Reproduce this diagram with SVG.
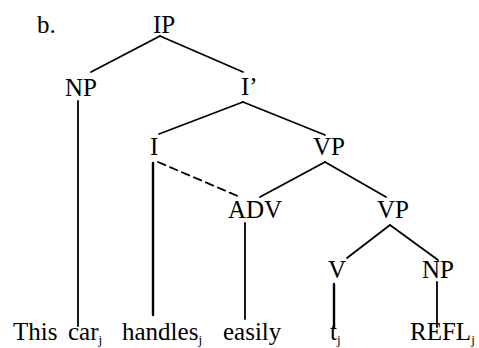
<svg xmlns="http://www.w3.org/2000/svg" width="479" height="348" viewBox="0 0 479 348">
<style>
.e{stroke:#000;stroke-width:1.8;fill:none;stroke-linecap:round}
.d{stroke-dasharray:8,5}
</style>
<rect width="479" height="348" fill="#fff"/>
<g id="connectors">
<line class="e" x1="160" y1="36" x2="91" y2="72"/>
<line class="e" x1="160" y1="36" x2="243" y2="72"/>
<line class="e" x1="78" y1="101" x2="78" y2="326"/>
<line class="e" x1="243" y1="102" x2="159" y2="134"/>
<line class="e" x1="243" y1="102" x2="325" y2="135"/>
<line class="e" x1="153" y1="163" x2="153" y2="315" style="stroke-width:2.4"/>
<line class="e d" x1="158" y1="162" x2="240" y2="197"/>
<line class="e" x1="325" y1="162" x2="260" y2="197"/>
<line class="e" x1="325" y1="162" x2="386" y2="197"/>
<line class="e" x1="245" y1="223" x2="245" y2="319"/>
<line class="e" x1="390" y1="225" x2="347" y2="258"/>
<line class="e" x1="390" y1="225" x2="438" y2="260"/>
<line class="e" x1="334" y1="284" x2="334" y2="328" style="stroke-width:2.4"/>
<line class="e" x1="437" y1="282" x2="437" y2="327"/>
</g>
<g id="label-b"><text x="37" y="33" font-family="Liberation Serif" font-size="25">b.</text></g>
<g id="IP"><text x="153" y="33" font-family="Liberation Serif" font-size="25">IP</text></g>
<g id="NP1"><text x="65" y="96" font-family="Liberation Serif" font-size="25">NP</text></g>
<g id="Ibar"><text x="241" y="95" font-family="Liberation Serif" font-size="25">I’</text></g>
<g id="I"><text x="150" y="155" font-family="Liberation Serif" font-size="25">I</text></g>
<g id="VP1"><text x="313" y="155" font-family="Liberation Serif" font-size="25">VP</text></g>
<g id="ADV"><text x="228" y="218" font-family="Liberation Serif" font-size="25">ADV</text></g>
<g id="VP2"><text x="377" y="218" font-family="Liberation Serif" font-size="25">VP</text></g>
<g id="V"><text x="328" y="278" font-family="Liberation Serif" font-size="25">V</text></g>
<g id="NP2"><text x="422" y="278" font-family="Liberation Serif" font-size="25">NP</text></g>
<g id="w-thiscar"><text x="13" y="340" font-family="Liberation Serif" font-size="25">This</text><text x="68" y="340" font-family="Liberation Serif" font-size="25">car<tspan font-size="13" dy="4">j</tspan></text></g>
<g id="w-handles"><text x="122" y="340" font-family="Liberation Serif" font-size="25">handles<tspan font-size="13" dy="4">j</tspan></text></g>
<g id="w-easily"><text x="223" y="340" font-family="Liberation Serif" font-size="25">easily</text></g>
<g id="w-t"><text x="330" y="340" font-family="Liberation Serif" font-size="25">t<tspan font-size="13" dy="4">j</tspan></text></g>
<g id="w-refl"><text x="410" y="340" font-family="Liberation Serif" font-size="25">REFL<tspan font-size="13" dy="4">j</tspan></text></g>
</svg>
